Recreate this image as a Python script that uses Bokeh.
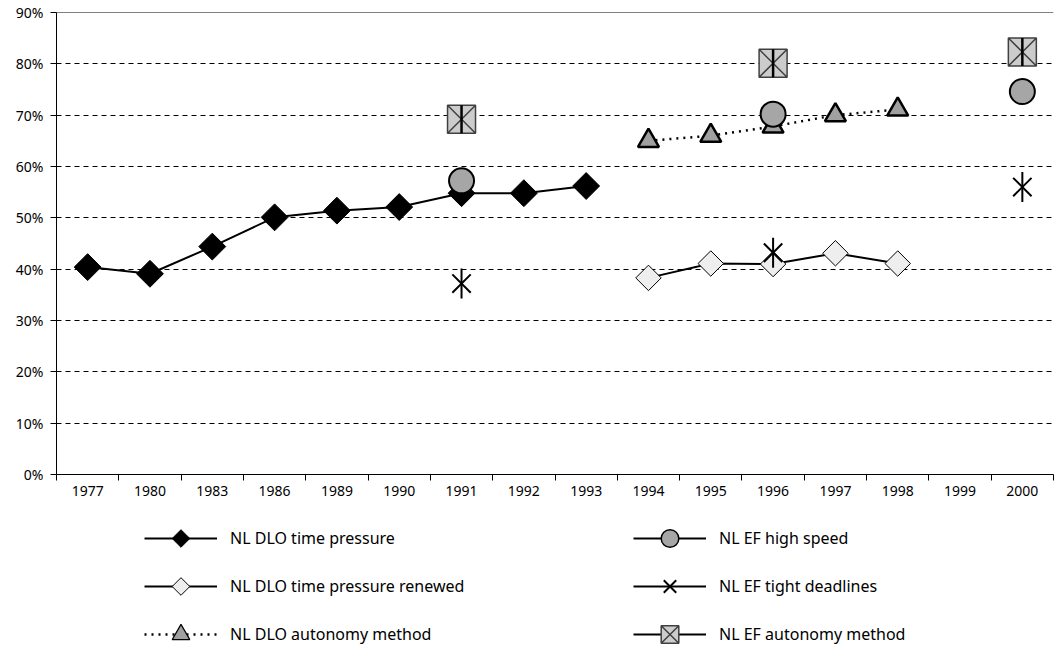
import math
import numpy as np
from bokeh.plotting import figure
from bokeh.layouts import column
from bokeh.models import (FactorRange, Range1d, LinearAxis, FixedTicker,
                          Legend, LegendItem, Span, PrintfTickFormatter, ColumnDataSource)
from bokeh.embed import file_html
from bokeh.resources import INLINE

years = ["1977", "1980", "1983", "1986", "1989", "1990", "1991", "1992", "1993",
         "1994", "1995", "1996", "1997", "1998", "1999", "2000"]

dlo_time_pressure = [40.4, 39.1, 44.4, 50.1, 51.4, 52.1, 54.8, 54.8, 56.2,
                     None, None, None, None, None, None, None]
dlo_time_pressure_renewed = [None, None, None, None, None, None, None, None, None,
                             38.3, 41.1, 41.0, 43.1, 41.1, None, None]
dlo_autonomy = [None, None, None, None, None, None, None, None, None,
                65.0, 66.0, 67.8, 70.0, 71.1, None, None]
ef_high_speed = [None, None, None, None, None, None, 57.2, None, None,
                 None, None, 70.2, None, None, None, 74.6]
ef_tight_deadlines = [None, None, None, None, None, None, 37.2, None, None,
                      None, None, 43.2, None, None, None, 56.0]
ef_autonomy = [None, None, None, None, None, None, 69.2, None, None,
               None, None, 80.1, None, None, None, 82.3]

labels = ["NL DLO time pressure", "NL DLO time pressure renewed", "NL DLO autonomy method",
          "NL EF high speed", "NL EF tight deadlines", "NL EF autonomy method"]

y_ticks = [0, 10, 20, 30, 40, 50, 60, 70, 80, 90]
grid_ticks = [10, 20, 30, 40, 50, 60, 70, 80]


def arr(v):
    return np.array(v, dtype=float)


src = ColumnDataSource(dict(
    x=years,
    dlo=arr(dlo_time_pressure),
    ren=arr(dlo_time_pressure_renewed),
    aut=arr(dlo_autonomy),
    hs=arr(ef_high_speed),
    td=arr(ef_tight_deadlines),
    ea=arr(ef_autonomy),
))

FONT = "Noto Sans"


def diamond_marker(f, col, fill, width, legend_version):
    if legend_version and hasattr(f, "ngon"):
        # a 4-sided polygon is drawn point-up, i.e. as a diamond, in the legend too
        return f.ngon("x", col, source=src, radius=10, radius_units="screen", n=4,
                      fill_color=fill, line_color="black", line_width=width)
    if legend_version:
        return f.scatter("x", col, source=src, marker="diamond", size=20,
                         fill_color=fill, line_color="black", line_width=width)
    return f.scatter("x", col, source=src, marker="square", angle=math.pi / 4,
                     size=19 if col == "dlo" else 18,
                     fill_color=fill, line_color="black", line_width=width)


def add_series(f, legend_version=False):
    """Draw all six series on figure f; return (line, marker) pairs for the legend."""
    out = []
    l1 = f.line("x", "dlo", source=src, line_color="black", line_width=2)
    s1 = diamond_marker(f, "dlo", "black", 1, legend_version)
    out.append([l1, s1])
    l2 = f.line("x", "ren", source=src, line_color="black", line_width=2)
    s2 = diamond_marker(f, "ren", "#eeeeee", 1, legend_version)
    out.append([l2, s2])
    l3 = f.line("x", "aut", source=src, line_color="black", line_width=2.5, line_dash="2 5")
    s3 = f.scatter("x", "aut", source=src, marker="triangle", size=21,
                   fill_color="#a0a0a0", line_color="black",
                   line_width=1.2 if legend_version else 2.5)
    out.append([l3, s3])
    l4 = f.line("x", "hs", source=src, line_color="black", line_width=2)
    s4 = f.scatter("x", "hs", source=src, marker="circle", size=25,
                   fill_color="#a6a6a6", line_color="black",
                   line_width=1.5 if legend_version else 2)
    out.append([l4, s4])
    l5 = f.line("x", "td", source=src, line_color="black", line_width=2)
    s5 = f.scatter("x", "td", source=src, marker="x", size=26,
                   line_color="black", line_width=2)
    f.scatter("x", "td", source=src, marker="dash", angle=math.pi / 2, size=30,
              line_color="black", line_width=2)
    out.append([l5, s5])
    l6 = f.line("x", "ea", source=src, line_color="black", line_width=2)
    s6 = f.scatter("x", "ea", source=src, marker="square_x", size=28,
                   fill_color="#cccccc", line_color="#404040", line_width=1.5)
    f.scatter("x", "ea", source=src, marker="dash", angle=math.pi / 2, size=28,
              line_color="black", line_width=2.5)
    out.append([l6, s6])
    return out


# ---------------- main chart ----------------
p = figure(width=1057, height=514, x_range=FactorRange(*years), y_range=Range1d(0, 90),
           x_axis_location=None, output_backend="svg", toolbar_location=None,
           min_border_left=56, min_border_right=4, min_border_top=12, min_border_bottom=40)
p.outline_line_color = None

ya = p.yaxis[0]
ya.ticker = FixedTicker(ticks=y_ticks)
ya.formatter = PrintfTickFormatter(format="%d%%")
ya.axis_line_color = "black"
ya.major_tick_line_color = "black"
ya.major_tick_out = 6
ya.major_tick_in = 0
ya.minor_tick_line_color = None
ya.major_label_text_font = FONT
ya.major_label_text_font_size = "14px"
ya.major_label_text_color = "black"
ya.major_label_standoff = 7

p.xgrid.visible = False
p.ygrid.ticker = FixedTicker(ticks=grid_ticks)
p.ygrid.grid_line_color = "black"
p.ygrid.grid_line_dash = "5 4"
p.ygrid.grid_line_width = 1

p.add_layout(Span(location=90, dimension="width", line_color="black", line_width=1))

centers = [i + 0.5 for i in range(len(years))]
bounds = list(range(len(years) + 1))
xa = LinearAxis(ticker=FixedTicker(ticks=centers, minor_ticks=bounds))
xa.major_label_overrides = {c: y for c, y in zip(centers, years)}
xa.axis_line_color = "black"
xa.major_tick_line_color = None
xa.major_tick_out = 0
xa.major_tick_in = 0
xa.minor_tick_line_color = "black"
xa.minor_tick_out = 6
xa.minor_tick_in = 0
xa.major_label_text_font = FONT
xa.major_label_text_font_size = "14px"
xa.major_label_text_color = "black"
xa.major_label_standoff = 5
p.add_layout(xa, "below")

add_series(p)

# ---------------- legend panel ----------------
# same series, drawn with a y range above the data so only the legend is visible
q = figure(width=1057, height=131, x_range=FactorRange(*years), y_range=Range1d(200, 300),
           x_axis_location=None, y_axis_location=None, output_backend="svg",
           toolbar_location=None, min_border=0)
q.outline_line_color = None
q.xgrid.visible = False
q.ygrid.visible = False
pairs = add_series(q, legend_version=True)

# location = bottom-left corner of the legend box, relative to the frame's bottom-left
legend = Legend(items=[LegendItem(label=lab, renderers=r) for lab, r in zip(labels, pairs)],
                orientation="vertical", nrows=3, location=(88, -11))
legend.border_line_color = None
legend.background_fill_alpha = 0
legend.padding = 0
legend.spacing = 4
legend.margin = 0
legend.glyph_width = 73
legend.glyph_height = 44
legend.label_standoff = 13
legend.label_width = 399
legend.label_text_font = FONT
legend.label_text_font_size = "16px"
legend.label_text_color = "black"
q.add_layout(legend, "center")

open("out.html", "w").write(file_html(column(p, q, spacing=0), INLINE))
